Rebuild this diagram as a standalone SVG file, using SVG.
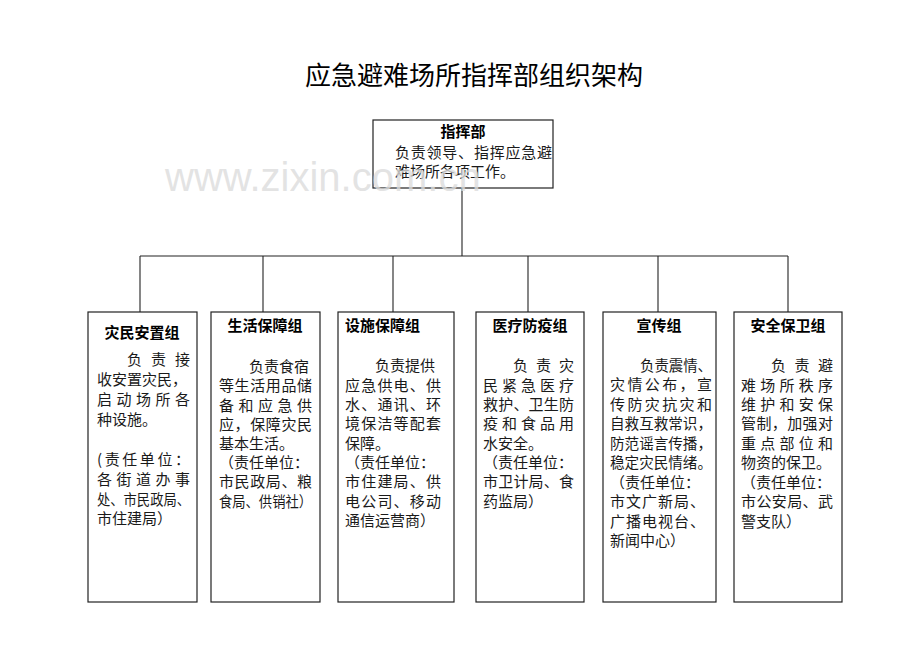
<svg xmlns="http://www.w3.org/2000/svg" width="920" height="651" viewBox="0 0 920 651">
<style>
.bg{fill:#ffffff}
.box{fill:#ffffff;stroke:#222222;stroke-width:1.2}
.ln{stroke:#222222;stroke-width:1.1;fill:none}
.t{font-family:"Noto Sans CJK SC","Noto Sans",sans-serif;font-size:15px;fill:#1a1a1a}
.h{font-family:"Noto Sans CJK SC","Noto Sans",sans-serif;font-size:15px;font-weight:bold;fill:#000000}
.c{text-anchor:middle}
.title{font-family:"Noto Sans CJK SC","Noto Sans",sans-serif;font-size:26px;fill:#000000}
.wm{font-family:"Liberation Sans",Arial,sans-serif;font-size:40px;fill:#dcdcdc;fill-opacity:0.8}
</style>
<rect class="bg" x="0" y="0" width="920" height="651"/>
<text class="title" x="305" y="85">应急避难场所指挥部组织架构</text>

<g id="connectors">
<line class="ln" x1="462" y1="188" x2="462" y2="256"/>
<line class="ln" x1="140" y1="256" x2="788" y2="256"/>
<line class="ln" x1="140" y1="256" x2="140" y2="312"/>
<line class="ln" x1="263" y1="256" x2="263" y2="312"/>
<line class="ln" x1="393" y1="256" x2="393" y2="312"/>
<line class="ln" x1="528" y1="256" x2="528" y2="312"/>
<line class="ln" x1="658" y1="256" x2="658" y2="312"/>
<line class="ln" x1="788" y1="256" x2="788" y2="312"/>
</g>

<g id="hq">
<rect class="box" x="373" y="120" width="180" height="68"/>
<text class="h c" x="463" y="137">指挥部</text>
<text class="t" x="395" y="158" textLength="157" lengthAdjust="spacing">负责领导、指挥应急避</text>
<text class="t" x="395" y="177">难场所各项工作。</text>
</g>

<g id="g1">
<rect class="box" x="88" y="312" width="109" height="290"/>
<text class="h c" x="142" y="338">灾民安置组</text>
<text class="t" x="127" y="365" textLength="63" lengthAdjust="spacing">负责接</text>
<text class="t" x="97" y="385">收安置灾民，</text>
<text class="t" x="97" y="405" textLength="93" lengthAdjust="spacing">启动场所各</text>
<text class="t" x="97" y="425">种设施。</text>
<text class="t" x="97" y="465" textLength="93" lengthAdjust="spacing">(责任单位：</text>
<text class="t" x="97" y="485" textLength="93" lengthAdjust="spacing">各街道办事</text>
<text class="t" x="97" y="505" textLength="93" lengthAdjust="spacingAndGlyphs">处、市民政局、</text>
<text class="t" x="97" y="524">市住建局）</text>
</g>

<g id="g2">
<rect class="box" x="211" y="312" width="109" height="290"/>
<text class="h c" x="265" y="331">生活保障组</text>
<text class="t" x="249" y="372">负责食宿</text>
<text class="t" x="219" y="391" textLength="93" lengthAdjust="spacing">等生活用品储</text>
<text class="t" x="219" y="411" textLength="93" lengthAdjust="spacing">备和应急供</text>
<text class="t" x="219" y="430" textLength="93" lengthAdjust="spacing">应，保障灾民</text>
<text class="t" x="219" y="449">基本生活。</text>
<text class="t" x="219" y="468">（责任单位：</text>
<text class="t" x="219" y="487" textLength="93" lengthAdjust="spacing">市民政局、粮</text>
<text class="t" x="219" y="507" textLength="93" lengthAdjust="spacingAndGlyphs">食局、供销社）</text>
</g>

<g id="g3">
<rect class="box" x="338" y="312" width="116" height="290"/>
<text class="h" x="345" y="331">设施保障组</text>
<text class="t" x="375" y="371">负责提供</text>
<text class="t" x="345" y="391" textLength="96" lengthAdjust="spacing">应急供电、供</text>
<text class="t" x="345" y="410" textLength="96" lengthAdjust="spacing">水、通讯、环</text>
<text class="t" x="345" y="429" textLength="96" lengthAdjust="spacing">境保洁等配套</text>
<text class="t" x="345" y="449">保障。</text>
<text class="t" x="345" y="468">（责任单位：</text>
<text class="t" x="345" y="487" textLength="96" lengthAdjust="spacing">市住建局、供</text>
<text class="t" x="345" y="507" textLength="96" lengthAdjust="spacing">电公司、移动</text>
<text class="t" x="345" y="526">通信运营商）</text>
</g>

<g id="g4">
<rect class="box" x="476" y="312" width="108" height="290"/>
<text class="h c" x="530" y="331">医疗防疫组</text>
<text class="t" x="513" y="371" textLength="61" lengthAdjust="spacing">负责灾</text>
<text class="t" x="483" y="391" textLength="91" lengthAdjust="spacing">民紧急医疗</text>
<text class="t" x="483" y="410" textLength="91" lengthAdjust="spacing">救护、卫生防</text>
<text class="t" x="483" y="429" textLength="91" lengthAdjust="spacing">疫和食品用</text>
<text class="t" x="483" y="449">水安全。</text>
<text class="t" x="483" y="468">（责任单位：</text>
<text class="t" x="483" y="487" textLength="91" lengthAdjust="spacing">市卫计局、食</text>
<text class="t" x="483" y="507">药监局）</text>
</g>

<g id="g5">
<rect class="box" x="603" y="312" width="113" height="290"/>
<text class="h c" x="659" y="331">宣传组</text>
<text class="t" x="640" y="371" textLength="72" lengthAdjust="spacingAndGlyphs">负责震情、</text>
<text class="t" x="610" y="390" textLength="102" lengthAdjust="spacing">灾情公布，宣</text>
<text class="t" x="610" y="410" textLength="102" lengthAdjust="spacing">传防灾抗灾和</text>
<text class="t" x="610" y="429" textLength="102" lengthAdjust="spacingAndGlyphs">自救互救常识，</text>
<text class="t" x="610" y="449" textLength="102" lengthAdjust="spacingAndGlyphs">防范谣言传播，</text>
<text class="t" x="610" y="468" textLength="102" lengthAdjust="spacingAndGlyphs">稳定灾民情绪。</text>
<text class="t" x="610" y="488">（责任单位：</text>
<text class="t" x="610" y="507" textLength="95" lengthAdjust="spacing">市文广新局、</text>
<text class="t" x="610" y="527" textLength="95" lengthAdjust="spacing">广播电视台、</text>
<text class="t" x="610" y="546">新闻中心）</text>
</g>

<g id="g6">
<rect class="box" x="734" y="312" width="108" height="290"/>
<text class="h c" x="788" y="331">安全保卫组</text>
<text class="t" x="771" y="371" textLength="62" lengthAdjust="spacing">负责避</text>
<text class="t" x="741" y="391" textLength="92" lengthAdjust="spacing">难场所秩序</text>
<text class="t" x="741" y="410" textLength="92" lengthAdjust="spacing">维护和安保</text>
<text class="t" x="741" y="429" textLength="92" lengthAdjust="spacing">管制，加强对</text>
<text class="t" x="741" y="449" textLength="92" lengthAdjust="spacing">重点部位和</text>
<text class="t" x="741" y="468">物资的保卫。</text>
<text class="t" x="741" y="488">（责任单位：</text>
<text class="t" x="741" y="507" textLength="92" lengthAdjust="spacing">市公安局、武</text>
<text class="t" x="741" y="527">警支队）</text>
</g>

<text class="wm" x="165" y="191">www.zixin.com.cn</text>
</svg>
